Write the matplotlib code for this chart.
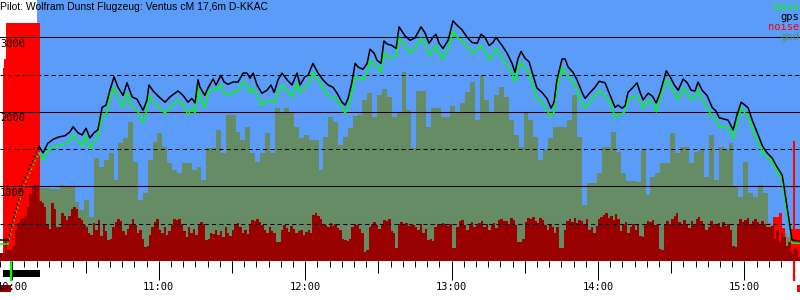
import numpy as np
import matplotlib.pyplot as plt
import matplotlib.transforms as mtransforms
from matplotlib.patches import Rectangle
from matplotlib.ticker import MultipleLocator, FuncFormatter

title = "Pilot: Wolfram Dunst Flugzeug: Ventus cM 17,6m D-KKAC"

# time: minutes after 10:00, heights in m
t_start, t_end = -5.04, 322.8
sky_start = 10.1

ground_t = [-5.0, -1.8]
ground_gps = [280, 280]
ground_baro = [230, 230]

climb_t = [-1.8, 4.4, 10.9]
climb_gps = [280, 1050, 1540]
climb_baro = [230, 980, 1450]

flight_t = [10.9, 12.6, 14.6, 16.7, 18.7, 21.6, 23.6, 24.9, 26.9, 28.6,
            30.2, 31.8, 33.5, 35.1, 36.8, 38.4, 40.0, 41.7, 43.3, 45.4,
            47.0, 49.1, 51.1, 53.6, 55.2, 56.0, 57.7, 60.1, 62.6, 64.6,
            67.9, 70.0, 72.0, 73.6, 74.9, 76.1, 76.9, 78.9, 80.2, 82.3,
            83.5, 85.5, 86.8, 88.4, 90.5, 92.5, 94.6, 96.2, 97.4, 98.7,
            100.3, 102.3, 104.4, 106.0, 107.3, 108.9, 110.5, 112.6, 114.6, 116.7,
            117.9, 119.9, 121.2, 123.2, 125.3, 127.3, 129.4, 131.4, 133.1, 135.1,
            136.4, 137.6, 139.2, 140.5, 141.8, 143.7, 145.4, 146.6, 148.2, 149.5,
            151.1, 152.3, 153.6, 155.6, 157.3, 158.5, 160.9, 163.0, 165.0, 167.5,
            169.1, 170.8, 172.4, 173.6, 174.9, 176.5, 178.6, 180.6, 182.3, 184.3,
            186.4, 188.4, 190.5, 192.1, 193.7, 195.4, 197.0, 198.2, 200.7, 202.7,
            204.8, 206.0, 207.3, 208.5, 210.1, 211.8, 213.4, 215.0, 217.1, 219.1,
            220.8, 222.0, 223.2, 225.3, 226.5, 227.8, 229.8, 231.4, 233.5, 234.7,
            236.8, 238.8, 240.5, 242.9, 245.0, 247.0, 248.2, 249.9, 251.1, 252.3,
            254.4, 256.0, 257.3, 258.5, 260.6, 262.3, 263.9, 265.5, 268.0, 269.6,
            271.3, 272.9, 274.9, 276.6, 278.2, 279.8, 281.0, 282.7, 284.7, 286.8,
            288.4, 289.7, 292.1, 293.3, 295.4, 297.0, 298.7, 300.3, 301.6, 303.2,
            305.2, 307.3, 309.3, 311.4, 313.4, 315.5, 316.3, 317.5, 318.7, 319.5,
            322.8]
flight_gps = [1540, 1450, 1580, 1630, 1660, 1680, 1730, 1800, 1720, 1690,
              1780, 1650, 1720, 1760, 2060, 2090, 2290, 2470, 2330, 2220,
              2390, 2200, 2170, 2020, 2160, 2360, 2280, 2200, 2130, 2200,
              2280, 2220, 2130, 2180, 2120, 2430, 2330, 2220, 2320, 2440,
              2360, 2490, 2400, 2370, 2400, 2400, 2520, 2520, 2450, 2520,
              2360, 2250, 2290, 2360, 2260, 2430, 2520, 2430, 2360, 2520,
              2360, 2470, 2490, 2650, 2520, 2430, 2360, 2330, 2250, 2130,
              2090, 2180, 2400, 2650, 2600, 2570, 2650, 2840, 2790, 2690,
              2650, 2950, 2910, 2890, 2850, 3140, 3020, 2960, 2990, 3140,
              3060, 2920, 3000, 3040, 2920, 2850, 2960, 3220, 3160, 3100,
              3000, 2930, 2920, 3040, 3000, 2890, 2930, 3000, 2890, 2790,
              2650, 2530, 2720, 2810, 2720, 2670, 2490, 2320, 2260, 2180,
              2050, 2130, 2430, 2710, 2710, 2600, 2530, 2430, 2260, 2180,
              2260, 2330, 2410, 2390, 2220, 2060, 2090, 2050, 2080, 2260,
              2330, 2390, 2260, 2160, 2250, 2210, 2120, 2260, 2550, 2470,
              2360, 2290, 2440, 2390, 2290, 2280, 2400, 2290, 2220, 2060,
              2010, 1920, 1900, 1890, 1760, 1960, 2130, 2090, 2050, 1890,
              1730, 1550, 1450, 1380, 1260, 1150, 990, 720, 460, 280,
              270]
flight_baro = [1450, 1350, 1490, 1530, 1550, 1570, 1620, 1690, 1620, 1540,
               1680, 1510, 1590, 1660, 1940, 1960, 2180, 2330, 2200, 2060,
               2250, 2060, 2020, 1860, 2020, 2220, 2140, 2060, 1980, 2060,
               2160, 2090, 1960, 2050, 1980, 2320, 2200, 2060, 2250, 2320,
               2290, 2360, 2260, 2220, 2260, 2280, 2400, 2370, 2260, 2320,
               2220, 2090, 2160, 2140, 2120, 2260, 2360, 2290, 2200, 2390,
               2260, 2330, 2360, 2530, 2430, 2320, 2220, 2200, 2160, 2060,
               1980, 2050, 2260, 2470, 2450, 2430, 2520, 2690, 2650, 2590,
               2530, 2800, 2730, 2720, 2760, 2990, 2890, 2790, 2850, 2990,
               2920, 2760, 2830, 2890, 2790, 2710, 2850, 3080, 3000, 2960,
               2870, 2790, 2830, 2890, 2830, 2690, 2760, 2850, 2730, 2630,
               2520, 2400, 2590, 2670, 2590, 2520, 2330, 2180, 2130, 2020,
               1930, 2000, 2320, 2600, 2520, 2470, 2400, 2290, 2100, 2060,
               2130, 2220, 2290, 2220, 2130, 1920, 1960, 1980, 2000, 2160,
               2200, 2220, 2130, 2050, 2160, 2120, 2000, 2180, 2430, 2360,
               2260, 2160, 2320, 2250, 2160, 2200, 2290, 2160, 2060, 1930,
               1900, 1800, 1800, 1780, 1650, 1850, 2050, 1980, 1930, 1780,
               1620, 1470, 1390, 1330, 1220, 1090, 910, 640, 420, 240,
               240]

# terrain elevation, one value every 2 minutes from 10:11:30
gnd_start, gnd_step = 11.5, 2.0
gnd_alt = [980, 980, 960, 960, 1020, 1000, 990, 790, 680, 820,
           590, 1380, 1260, 1350, 1450, 1090, 1580, 1650, 1860, 1330,
           820, 910, 1350, 1590, 1720, 1530, 1310, 1220, 1180, 1310,
           1310, 1220, 1260, 1090, 1510, 1510, 1760, 1450, 1960, 1960,
           1730, 1620, 1800, 1450, 1330, 1450, 1720, 1450, 2050, 2000,
           2050, 1980, 1800, 1650, 1690, 1620, 1620, 1220, 1660, 1930,
           1860, 1550, 1660, 1780, 1940, 1960, 2160, 2250, 1930, 2220,
           2300, 2200, 1930, 2000, 2530, 2020, 1510, 2280, 2280, 1800,
           2050, 2050, 1930, 1930, 2080, 1980, 2120, 2260, 2400, 1890,
           2490, 2160, 1980, 2220, 2330, 2200, 1890, 1690, 1530, 1980,
           1890, 1660, 1350, 1490, 1650, 1800, 1800, 1800, 1890, 2220,
           1660, 750, 1050, 1050, 1180, 1530, 1530, 1730, 1460, 1180,
           1070, 1070, 1060, 1490, 880, 1130, 1180, 1310, 1310, 1720,
           1450, 1530, 1530, 1310, 1460, 1490, 1130, 1690, 1090, 1530,
           1490, 1580, 990, 860, 1330, 910, 860, 1020, 910, 510,
           480, 380, 380, 320, 320, 150]

# noise (engine noise level), one value per minute from 09:55
noise_start = -5.0
noise = [110, 110, 310, 150, 150, 200, 415, 510, 560, 580,
         600, 730, 900, 990, 1020, 1020, 800, 780, 730, 500,
         430, 780, 700, 450, 450, 650, 600, 550, 610, 700,
         720, 700, 580, 550, 480, 450, 380, 350, 510, 420,
         550, 330, 480, 400, 280, 300, 450, 520, 560, 540,
         400, 350, 430, 500, 560, 480, 380, 420, 300, 190,
         200, 350, 450, 520, 560, 420, 380, 460, 350, 400,
         480, 560, 550, 560, 500, 400, 320, 450, 380, 430,
         350, 480, 520, 500, 280, 300, 380, 360, 420, 350,
         400, 320, 450, 380, 340, 420, 480, 510, 460, 380,
         420, 360, 500, 550, 540, 560, 520, 480, 420, 380,
         450, 400, 380, 260, 250, 420, 480, 440, 390, 470,
         430, 380, 400, 410, 350, 390, 420, 380, 620, 640,
         600, 560, 500, 480, 460, 510, 470, 500, 440, 420,
         300, 280, 270, 300, 450, 500, 480, 430, 380, 120,
         150, 450, 500, 520, 480, 430, 500, 550, 540, 560,
         400, 370, 180, 500, 520, 490, 510, 470, 500, 480,
         460, 420, 500, 380, 430, 280, 290, 270, 460, 500,
         480, 510, 490, 470, 500, 180, 170, 450, 530, 550,
         480, 420, 500, 520, 450, 480, 510, 540, 460, 500,
         420, 480, 510, 440, 550, 560, 530, 540, 490, 570,
         550, 480, 260, 250, 300, 520, 580, 560, 590, 540,
         510, 580, 550, 480, 420, 500, 450, 380, 460, 180,
         170, 420, 540, 560, 520, 570, 510, 550, 530, 500,
         560, 420, 450, 380, 470, 560, 590, 620, 640, 580,
         600, 550, 630, 560, 400, 480, 520, 380, 450, 500,
         420, 480, 330, 320, 500, 540, 520, 550, 480, 500,
         160, 150, 480, 530, 500, 560, 600, 640, 520, 480,
         550, 500, 440, 530, 490, 560, 590, 540, 500, 420,
         460, 530, 500, 480, 510, 450, 520, 470, 500, 420,
         200, 190, 480, 560, 520, 550, 580, 500, 530, 560,
         520, 480, 540, 500, 460, 450, 470, 300, 420, 250,
         380, 320, 200, 250, 110, 180, 150, 60]

# raw noise peaks (engine run and landing)
red_start = [-3.8, -3.4, -2.6, 311.8, 314.0, 315.5, 318.6, 319.8, 320.6]
red_end = [-3.4, -2.6, 11.35, 314.0, 315.5, 316.5, 319.8, 320.6, 322.8]
red_level = [2590, 2710, 3190, 590, 640, 440, 430, 1610, 430]

engine_on, engine_off = -3.8, 11.35
takeoff, landing = -0.6, 320.2

solid_levels = [1000, 2000, 3000]
dashed_levels = [500, 1500, 2500]

legend_names = ["baro", "gps", "noise", "gnd"]

blue = "#5a9cf8"
gnd_c = "#658c65"
baro_c = "#00ff00"
noise_c = "#ff0000"
dark_red = "#990000"
legend_colors = [baro_c, "black", noise_c, gnd_c]
mono = "DejaVu Sans Mono"

fig = plt.figure(figsize=(8, 3), dpi=100)
ax = fig.add_axes([0, 39 / 300, 1, 261 / 300])
ax.set_xlim(t_start, t_end)
ax.set_ylim(0, 3500)
for s in ax.spines.values():
    s.set_visible(False)
ax.set_yticks([])

ax.axvspan(sky_start, t_end, color=blue, lw=0, zorder=0)

gnd_edges = gnd_start + gnd_step * np.arange(len(gnd_alt) + 1)
ax.stairs(gnd_alt, gnd_edges, fill=True, color=gnd_c, lw=0, zorder=1)

ax.bar(red_start, red_level, width=np.subtract(red_end, red_start),
       align="edge", color=noise_c, lw=0, zorder=2)

noise_edges = noise_start + np.arange(len(noise) + 1)
ax.stairs(noise, noise_edges, fill=True, color=dark_red, lw=0, zorder=3)

for lvl in solid_levels:
    ax.axhline(lvl, color="black", lw=0.75, zorder=4)
for lvl in dashed_levels:
    ax.axhline(lvl, color="black", lw=0.75, ls=(0, (4, 3)), zorder=4)

# altitude traces
ax.plot(ground_t, ground_baro, color=baro_c, lw=1.1, zorder=5)
ax.plot(ground_t, ground_gps, color="black", lw=1.1, zorder=6)
ax.plot(climb_t, climb_baro, color=baro_c, lw=1.1, ls=(0, (1, 2)), zorder=5)
ax.plot(climb_t, climb_gps, color="black", lw=1.1, ls=(0, (1, 2)), zorder=6)
ax.plot(flight_t, flight_baro, color=baro_c, lw=1.1, zorder=5)
ax.plot(flight_t, flight_gps, color="black", lw=1.1, zorder=6)

# height labels just below the solid lines
ytrans = mtransforms.blended_transform_factory(ax.transAxes, ax.transData)
for lvl in solid_levels:
    ax.text(0.0, lvl - 18, str(lvl), transform=ytrans, ha="left", va="top",
            family=mono, fontsize=7.5, color="black", zorder=7)

# legend as coloured words in the top right corner
for i, (name, col) in enumerate(zip(legend_names, legend_colors)):
    ax.text(0.999, 1 - (10 + 10 * i) / 261, name, transform=ax.transAxes,
            ha="right", va="baseline", family=mono, fontsize=7.5, color=col,
            zorder=7)

# time axis
ax.xaxis.set_major_locator(MultipleLocator(60))
ax.xaxis.set_minor_locator(MultipleLocator(5))
ax.xaxis.set_major_formatter(FuncFormatter(
    lambda t, pos: f"{10 + int(round(t)) // 60}:{int(round(t)) % 60:02d}"))
ax.tick_params(axis="x", which="major", length=13.7, width=0.72, pad=1.5,
               labelsize=7.5, labelfontfamily=mono, direction="out")
ax.tick_params(axis="x", which="minor", length=4.3, width=0.72, direction="out")

sec = ax.secondary_xaxis("bottom")
sec.set_xticks(np.arange(30, 330, 60))
sec.tick_params(length=8.6, width=0.72, labelbottom=False, direction="out")
for s in sec.spines.values():
    s.set_visible(False)

# event marks below the axis
xtrans = mtransforms.blended_transform_factory(ax.transData, ax.transAxes)
ax.add_patch(Rectangle((engine_on, -16 / 261), engine_off - engine_on, 7 / 261,
                       transform=xtrans, clip_on=False, color="black", lw=0))
ax.plot([takeoff, takeoff], [0, -19 / 261], transform=xtrans, clip_on=False,
        color=baro_c, lw=1.6)
ax.plot([landing, landing], [0, -19 / 261], transform=xtrans, clip_on=False,
        color=noise_c, lw=1.6)
ax.add_patch(Rectangle((t_start, -31 / 261), takeoff - t_start, 7 / 261,
                       transform=xtrans, clip_on=False, color=dark_red, lw=0))
ax.add_patch(Rectangle((321.6, -31 / 261), t_end - 321.6, 7 / 261,
                       transform=xtrans, clip_on=False, color=noise_c, lw=0))

fig.text(0.0, 1 - 1.5 / 300, title, ha="left", va="top",
         family="Liberation Sans", fontsize=7.5, color="black")

fig.savefig("out.png", dpi=100)
